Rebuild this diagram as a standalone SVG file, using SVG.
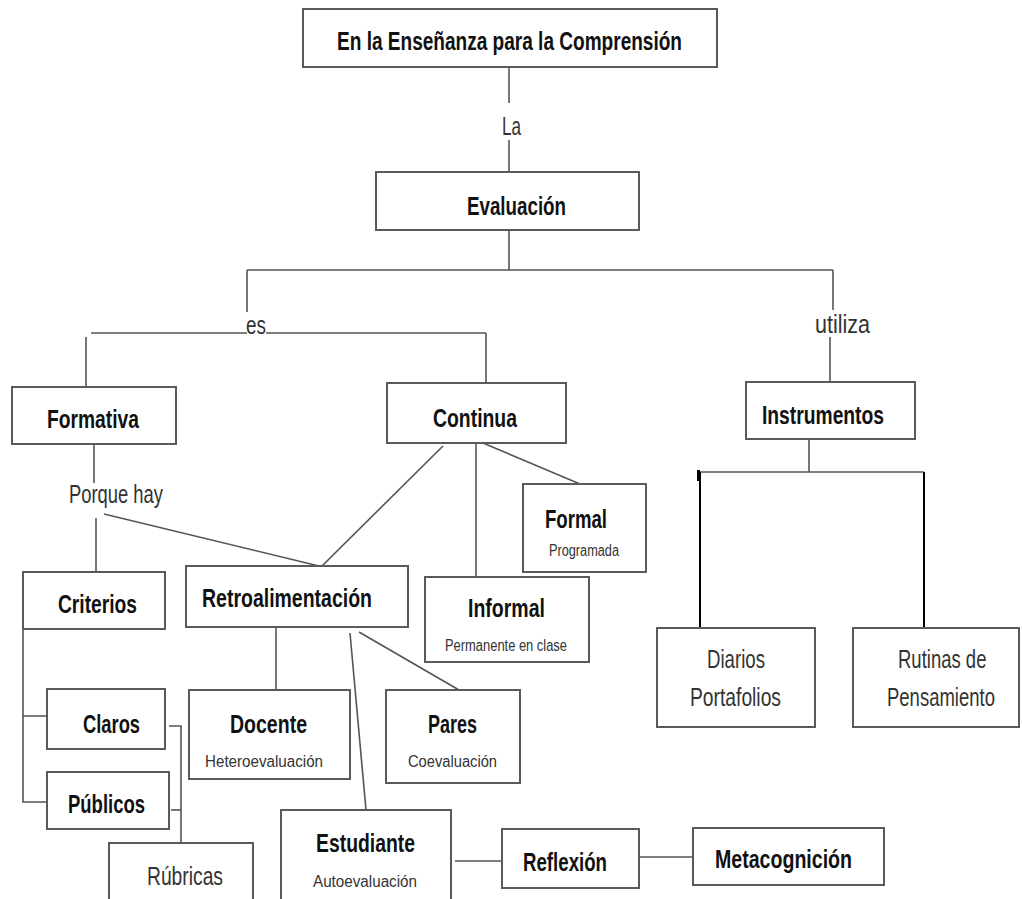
<svg xmlns="http://www.w3.org/2000/svg" width="1022" height="899" viewBox="0 0 1022 899">
<defs>
<style>
.box{fill:#fff;stroke:#5a5a5a;stroke-width:2}
.ln{stroke:#555;stroke-width:1.6;fill:none}
.blk{stroke:#000;stroke-width:2;fill:none}
.b{font-family:"Liberation Sans",Arial,sans-serif;font-weight:bold;font-size:25px;fill:#111}
.r{font-family:"Liberation Sans",Arial,sans-serif;font-size:25px;fill:#333}
.s{font-family:"Liberation Sans",Arial,sans-serif;font-size:16px;fill:#333}
.lb{font-family:"Liberation Sans",Arial,sans-serif;font-size:26px;fill:#333}
</style>
</defs>
<rect width="1022" height="899" fill="#fff"/>
<g id="connectors">
<line class="ln" x1="509" y1="67" x2="509" y2="103"/>
<line class="ln" x1="509" y1="140" x2="509" y2="172"/>
<line class="ln" x1="509" y1="230" x2="509" y2="270"/>
<line class="ln" x1="247" y1="270" x2="833" y2="270"/>
<line class="ln" x1="247" y1="270" x2="247" y2="312"/>
<line class="ln" x1="833" y1="270" x2="833" y2="310"/>
<line class="ln" x1="91" y1="333" x2="247" y2="333"/>
<line class="ln" x1="266" y1="333" x2="486" y2="333"/>
<line class="ln" x1="486" y1="333" x2="486" y2="383"/>
<line class="ln" x1="86" y1="337" x2="86" y2="387"/>
<line class="ln" x1="830" y1="337" x2="830" y2="382"/>
<line class="ln" x1="94" y1="444" x2="94" y2="483"/>
<line class="ln" x1="96" y1="518" x2="96" y2="572"/>
<line class="ln" x1="104" y1="514" x2="319" y2="566"/>
<line class="ln" x1="443" y1="446" x2="322" y2="566"/>
<line class="ln" x1="476" y1="443" x2="476" y2="577"/>
<line class="ln" x1="483" y1="443" x2="580" y2="484"/>
<polyline class="ln" points="47,716 23,716 23,629"/>
<polyline class="ln" points="23,716 23,802 47,802"/>
<polyline class="ln" points="169,726 181,726 181,843"/>
<line class="ln" x1="171" y1="810" x2="181" y2="810"/>
<line class="ln" x1="276" y1="627" x2="276" y2="690"/>
<line class="ln" x1="350" y1="633" x2="366" y2="810"/>
<line class="ln" x1="359" y1="632" x2="459" y2="690"/>
<line class="ln" x1="455" y1="861" x2="502" y2="861"/>
<line class="ln" x1="639" y1="857" x2="693" y2="857"/>
<line class="ln" x1="809" y1="439" x2="809" y2="472"/>
<line class="ln" x1="698" y1="472" x2="924" y2="472"/>
<line class="blk" x1="700" y1="472" x2="700" y2="632"/>
<line x1="698.5" y1="470" x2="698.5" y2="481" stroke="#000" stroke-width="3"/>
<line class="blk" x1="924" y1="472" x2="924" y2="628"/>
</g>
<g id="labels">
<text class="lb" x="502" y="135" textLength="19" lengthAdjust="spacingAndGlyphs">La</text>
<text class="lb" x="246" y="334" textLength="20" lengthAdjust="spacingAndGlyphs">es</text>
<text class="lb" x="815" y="333" textLength="55" lengthAdjust="spacingAndGlyphs">utiliza</text>
<text class="lb" x="69" y="503" textLength="94" lengthAdjust="spacingAndGlyphs">Porque hay</text>
</g>
<g id="n-top"><rect class="box" x="303" y="9" width="414" height="58"/>
<text class="b" x="337" y="50" textLength="345" lengthAdjust="spacingAndGlyphs">En la Enseñanza para la Comprensión</text></g>
<g id="n-evaluacion"><rect class="box" x="376" y="172" width="263" height="58"/>
<text class="b" x="467" y="215" textLength="99" lengthAdjust="spacingAndGlyphs">Evaluación</text></g>
<g id="n-formativa"><rect class="box" x="12" y="387" width="164" height="57"/>
<text class="b" x="47" y="428" textLength="92" lengthAdjust="spacingAndGlyphs">Formativa</text></g>
<g id="n-continua"><rect class="box" x="387" y="383" width="179" height="60"/>
<text class="b" x="433" y="427" textLength="84" lengthAdjust="spacingAndGlyphs">Continua</text></g>
<g id="n-instrumentos"><rect class="box" x="746" y="382" width="169" height="57"/>
<text class="b" x="762" y="424" textLength="122" lengthAdjust="spacingAndGlyphs">Instrumentos</text></g>
<g id="n-formal"><rect class="box" x="523" y="484" width="123" height="88"/>
<text class="b" x="545" y="528" textLength="62" lengthAdjust="spacingAndGlyphs">Formal</text>
<text class="s" x="549" y="556" font-size="14" textLength="70" lengthAdjust="spacingAndGlyphs">Programada</text></g>
<g id="n-informal"><rect class="box" x="425" y="577" width="164" height="85"/>
<text class="b" x="468" y="617" textLength="77" lengthAdjust="spacingAndGlyphs">Informal</text>
<text class="s" x="445" y="651" textLength="122" lengthAdjust="spacingAndGlyphs">Permanente en clase</text></g>
<g id="n-criterios"><rect class="box" x="23" y="572" width="142" height="57"/>
<text class="b" x="58" y="613" textLength="79" lengthAdjust="spacingAndGlyphs">Criterios</text></g>
<g id="n-retro"><rect class="box" x="186" y="566" width="222" height="61"/>
<text class="b" x="202" y="607" textLength="170" lengthAdjust="spacingAndGlyphs">Retroalimentación</text></g>
<g id="n-claros"><rect class="box" x="47" y="689" width="118" height="60"/>
<text class="b" x="83" y="733" textLength="57" lengthAdjust="spacingAndGlyphs">Claros</text></g>
<g id="n-publicos"><rect class="box" x="47" y="772" width="122" height="57"/>
<text class="b" x="68" y="813" textLength="77" lengthAdjust="spacingAndGlyphs">Públicos</text></g>
<g id="n-rubricas"><rect class="box" x="109" y="843" width="144" height="70"/>
<text class="r" x="147" y="885" textLength="76" lengthAdjust="spacingAndGlyphs">Rúbricas</text></g>
<g id="n-docente"><rect class="box" x="189" y="690" width="161" height="89"/>
<text class="b" x="230" y="733" textLength="77" lengthAdjust="spacingAndGlyphs">Docente</text>
<text class="s" x="205" y="767" textLength="118" lengthAdjust="spacingAndGlyphs">Heteroevaluación</text></g>
<g id="n-pares"><rect class="box" x="386" y="690" width="134" height="93"/>
<text class="b" x="428" y="733" textLength="49" lengthAdjust="spacingAndGlyphs">Pares</text>
<text class="s" x="408" y="767" textLength="89" lengthAdjust="spacingAndGlyphs">Coevaluación</text></g>
<g id="n-estudiante"><rect class="box" x="281" y="810" width="170" height="100"/>
<text class="b" x="316" y="852" textLength="99" lengthAdjust="spacingAndGlyphs">Estudiante</text>
<text class="s" x="313" y="887" textLength="104" lengthAdjust="spacingAndGlyphs">Autoevaluación</text></g>
<g id="n-reflexion"><rect class="box" x="502" y="829" width="137" height="59"/>
<text class="b" x="523" y="871" textLength="84" lengthAdjust="spacingAndGlyphs">Reflexión</text></g>
<g id="n-metacognicion"><rect class="box" x="693" y="828" width="191" height="57"/>
<text class="b" x="715" y="868" textLength="137" lengthAdjust="spacingAndGlyphs">Metacognición</text></g>
<g id="n-diarios"><rect class="box" x="657" y="628" width="158" height="99"/>
<text class="r" x="707" y="668" textLength="58" lengthAdjust="spacingAndGlyphs">Diarios</text>
<text class="r" x="690" y="706" textLength="91" lengthAdjust="spacingAndGlyphs">Portafolios</text></g>
<g id="n-rutinas"><rect class="box" x="853" y="628" width="166" height="99"/>
<text class="r" transform="translate(898,668) scale(0.74,1)" x="0" y="0">Rutinas de</text>
<text class="r" transform="translate(887,706) scale(0.74,1)" x="0" y="0">Pensamiento</text></g>
</svg>
